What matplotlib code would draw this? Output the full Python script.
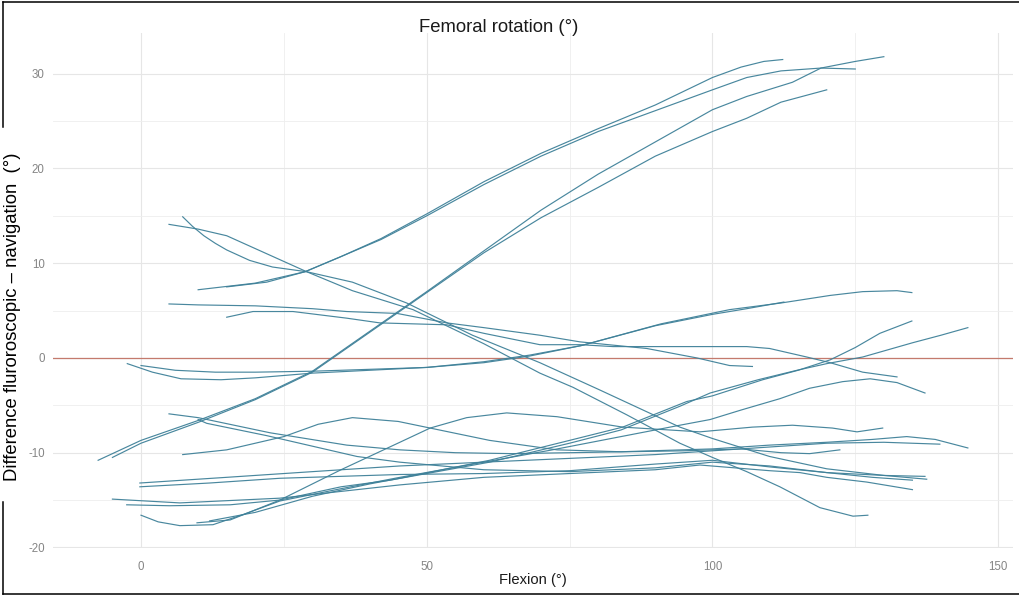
import matplotlib
matplotlib.use("Agg")
import matplotlib.pyplot as plt
from matplotlib.lines import Line2D
from matplotlib.ticker import MultipleLocator

# =========================================================
# DATA  (flexion in degrees, difference in degrees), one pair per knee
# =========================================================
flex_s1 = [-7.5, 0, 10, 20, 30, 40, 50, 60, 70, 80, 90, 100, 106, 114, 119, 125, 130]
diff_s1 = [-10.8, -8.7, -6.6, -4.3, -1.4, 2.8, 7.0, 11.3, 15.6, 19.4, 22.8, 26.2, 27.6, 29.1, 30.6, 31.3, 31.8]

flex_s2 = [-5, 0, 10, 20, 30, 40, 50, 60, 70, 80, 90, 100, 106, 112, 120]
diff_s2 = [-10.5, -9.0, -6.8, -4.4, -1.5, 2.7, 6.9, 11.1, 14.8, 18.0, 21.3, 23.9, 25.3, 27.0, 28.3]

flex_u1 = [10, 20, 28.7, 35, 42, 50, 60, 70, 80, 90, 100, 105, 109, 112.3]
diff_u1 = [7.2, 7.9, 9.1, 10.7, 12.6, 15.2, 18.6, 21.6, 24.2, 26.7, 29.6, 30.7, 31.3, 31.5]

flex_u2 = [15, 22, 28.7, 35, 42, 50, 60, 70, 80, 90, 100, 106, 112, 119, 125]
diff_u2 = [7.5, 8.0, 9.1, 10.7, 12.5, 15.0, 18.3, 21.3, 23.9, 26.1, 28.3, 29.6, 30.3, 30.6, 30.5]

flex_d1 = [4.9, 10, 15, 22, 29, 37, 47.6, 60, 69.8, 75.6, 85, 94.3, 100, 106, 111.8, 118.8, 124.6, 127.2]
diff_d1 = [14.1, 13.6, 12.9, 11.0, 9.1, 7.1, 5.1, 1.5, -1.6, -3.1, -6.0, -9.0, -10.5, -12.0, -13.6, -15.8, -16.7, -16.6]

flex_d2 = [7.3, 9, 11, 13, 15, 19, 23, 29, 37, 46.5, 58, 69.8, 80, 94.3, 100, 110, 120, 130, 137.5]
diff_d2 = [14.9, 13.9, 12.9, 12.1, 11.4, 10.3, 9.6, 9.1, 8.0, 5.8, 2.4, -0.5, -3.3, -7.3, -8.5, -10.4, -11.7, -12.4, -12.8]

flex_m1 = [4.9, 10, 20, 30, 36, 44.8, 53.5, 60, 69.8, 76.8, 88.5, 97.3, 103, 107]
diff_m1 = [5.7, 5.6, 5.5, 5.2, 4.9, 4.7, 3.7, 3.2, 2.4, 1.7, 1.0, 0.0, -0.8, -0.9]

flex_m2 = [15, 19.6, 26.6, 36, 41.8, 47.6, 53.5, 60, 69.8, 76.8, 82.6, 96, 106, 110, 116.5, 120.6, 126.3, 132.3]
diff_m2 = [4.3, 4.9, 4.9, 4.2, 3.7, 3.6, 3.5, 2.6, 1.4, 1.4, 1.2, 1.2, 1.2, 1.0, 0.1, -0.5, -1.5, -2.0]

flex_za = [-2.4, 2, 7, 14, 20, 30, 40, 50, 60, 68, 77, 90, 100, 106, 112.5]
diff_za = [-0.6, -1.5, -2.2, -2.3, -2.1, -1.6, -1.3, -1.0, -0.4, 0.3, 1.3, 3.4, 4.6, 5.2, 5.9]

flex_zb = [0, 6, 13, 20, 30, 40, 50, 60, 68, 77, 91, 103, 112, 120.6, 126.3, 132.3, 134.9]
diff_zb = [-0.8, -1.3, -1.5, -1.5, -1.4, -1.2, -1.0, -0.5, 0.2, 1.3, 3.6, 5.1, 5.8, 6.6, 7.0, 7.1, 6.9]

flex_l1 = [4.9, 10, 22.6, 36, 45.3, 55, 65, 75, 85, 95, 105, 112, 117, 122.3]
diff_l1 = [-5.9, -6.3, -7.9, -9.2, -9.7, -10.0, -10.1, -10.0, -9.9, -9.8, -9.6, -10.0, -10.1, -9.7]

flex_l2 = [10, 11.5, 22, 37.8, 45.3, 60, 75, 90, 100, 110, 120, 128, 135]
diff_l2 = [-6.5, -6.9, -8.2, -10.4, -11.0, -11.8, -12.0, -11.6, -11.0, -11.4, -12.1, -12.6, -12.9]

flex_h1 = [7.3, 15, 25, 31, 37, 45, 50.6, 61, 72.8, 84, 100, 110, 120, 128, 134, 139, 144.7]
diff_h1 = [-10.2, -9.7, -8.3, -7.0, -6.3, -6.7, -7.4, -8.7, -9.7, -9.9, -9.6, -9.2, -8.9, -8.6, -8.3, -8.6, -9.5]

flex_h2 = [9.8, 15.6, 24.3, 35, 45.3, 50.6, 57, 64, 72.8, 84.3, 97.8, 107, 114, 121, 125.3, 129.8]
diff_h2 = [-17.4, -17.1, -15.0, -11.8, -8.9, -7.4, -6.3, -5.8, -6.2, -7.3, -7.8, -7.3, -7.1, -7.4, -7.8, -7.4]

flex_r1 = [12, 20, 30, 40, 45.3, 61, 75, 84.3, 95.5, 100, 108.8, 115, 120.6, 125, 129.3, 134.9]
diff_r1 = [-17.2, -16.3, -14.6, -13.3, -12.7, -10.8, -8.7, -7.3, -4.6, -4.0, -2.3, -1.3, -0.2, 1.1, 2.6, 3.9]

flex_r2 = [-2.5, 5, 15.6, 24.3, 35, 43.6, 61, 75, 84, 94.3, 99.6, 108, 114.8, 120, 126.3, 135, 140, 144.7]
diff_r2 = [-15.5, -15.6, -15.5, -15.0, -13.6, -12.9, -11.0, -9.0, -7.6, -5.1, -3.7, -2.3, -1.3, -0.6, 0.1, 1.6, 2.4, 3.2]

flex_r3 = [0, 3, 6.8, 12.6, 18, 24.3, 35, 45.3, 60, 72, 84, 94.3, 99.6, 105, 111.8, 117, 122.8, 127.6, 132.3, 137.2]
diff_r3 = [-16.6, -17.3, -17.7, -17.6, -16.5, -15.1, -13.8, -12.6, -11.0, -9.7, -8.3, -7.1, -6.5, -5.5, -4.3, -3.2, -2.5, -2.2, -2.6, -3.7]

flex_n1 = [-0.2, 15, 30, 45.3, 60, 75, 90, 100, 110, 120, 130, 139.8]
diff_n1 = [-13.2, -12.6, -12.0, -11.4, -11.0, -10.6, -10.2, -9.8, -9.4, -9.0, -8.9, -9.1]

flex_n2 = [-0.2, 12, 24.3, 45.3, 60, 75, 90, 100, 110, 120, 130, 137.2]
diff_n2 = [-13.6, -13.2, -12.7, -12.3, -12.2, -11.9, -11.2, -10.8, -11.5, -12.1, -12.4, -12.5]

flex_n3 = [-5, 6.8, 24.3, 45.3, 60, 75, 90, 97.8, 110, 115.3, 120, 127, 135]
diff_n3 = [-14.9, -15.3, -14.8, -13.4, -12.6, -12.2, -11.8, -11.3, -11.9, -12.1, -12.6, -13.1, -13.9]

CURVES = [
    (flex_s1, diff_s1), (flex_s2, diff_s2), (flex_u1, diff_u1), (flex_u2, diff_u2),
    (flex_d1, diff_d1), (flex_d2, diff_d2), (flex_m1, diff_m1), (flex_m2, diff_m2),
    (flex_za, diff_za), (flex_zb, diff_zb), (flex_l1, diff_l1), (flex_l2, diff_l2),
    (flex_h1, diff_h1), (flex_h2, diff_h2), (flex_r1, diff_r1), (flex_r2, diff_r2),
    (flex_r3, diff_r3), (flex_n1, diff_n1), (flex_n2, diff_n2), (flex_n3, diff_n3),
]

x_ticks = [0, 50, 100, 150]
y_ticks = [-20, -10, 0, 10, 20, 30]

# =========================================================
# FIGURE
# =========================================================
plt.rcParams['font.family'] = ['Liberation Sans', 'DejaVu Sans']
plt.rcParams['axes.unicode_minus'] = False

W, H = 1019, 596
fig = plt.figure(figsize=(W / 100, H / 100), dpi=100)
ax = fig.add_axes([53 / W, 1 - 548 / H, (1013 - 53) / W, (548 - 33) / H])

ax.set_xlim(-15.4, 152.6)
ax.set_ylim(-20.06, 34.3)

ax.xaxis.set_minor_locator(MultipleLocator(25))
ax.yaxis.set_minor_locator(MultipleLocator(5))
ax.set_xticks(x_ticks)
ax.set_yticks(y_ticks)

ax.grid(which='major', color='#e6e6e6', linewidth=0.8)
ax.grid(which='minor', color='#eeeeee', linewidth=0.6)
ax.set_axisbelow(True)
for sp in ax.spines.values():
    sp.set_visible(False)
ax.tick_params(which='both', length=0, labelsize=8.3, labelcolor='#858585')
ax.tick_params(axis='x', pad=9)
ax.tick_params(axis='y', pad=6)

ax.axhline(0, color='#c47a6d', linewidth=0.9, zorder=2)

for fx, dy in CURVES:
    ax.plot(fx, dy, color='#3f8199', linewidth=0.85, alpha=0.95, zorder=3,
            solid_joinstyle='round')

# =========================================================
# TEXT
# =========================================================
fig.text(499 / W, 1 - 28 / H, 'Femoral rotation (°)', ha='center', va='center',
         fontsize=13.3, color='#1a1a1a')
fig.text(533 / W, 1 - 580 / H, 'Flexion (°)', ha='center', va='center',
         fontsize=10.6, color='#1a1a1a')
fig.text(13 / W, 1 - 317 / H, 'Difference fluroroscopic – navigation  (°)',
         ha='center', va='center', rotation=90, fontsize=13.3, color='#000000')

# outer frame, left side broken by the y label
frame_kw = dict(color='black', linewidth=1.1, transform=None)
fig.add_artist(Line2D([3, W], [H - 2, H - 2], **frame_kw))
fig.add_artist(Line2D([3, W], [2, 2], **frame_kw))
fig.add_artist(Line2D([3, 3], [H - 2, H - 127], **frame_kw))
fig.add_artist(Line2D([3, 3], [H - 502, 2], **frame_kw))

fig.savefig('out.png', dpi=100)
